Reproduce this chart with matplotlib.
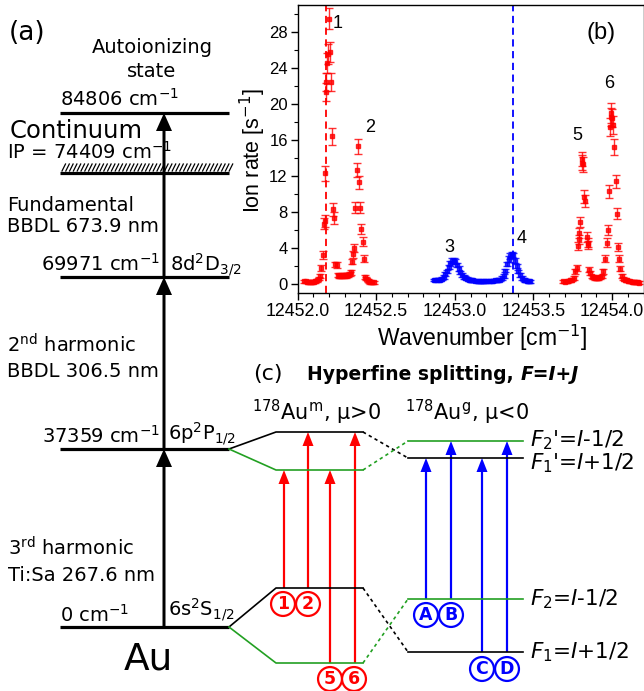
import numpy as np
import matplotlib
matplotlib.use("Agg")
import matplotlib.pyplot as plt
from matplotlib.ticker import MultipleLocator

# ---- spectrum data (b): wavenumber offsets from 12452 cm-1, ion rate, error ----
wn_base = 12452.0

m_low_x = [0.040, 0.051, 0.061, 0.072, 0.083, 0.093, 0.104, 0.114, 0.125, 0.135,
           0.142, 0.150, 0.163, 0.169, 0.173, 0.178, 0.182, 0.184, 0.188, 0.193,
           0.199, 0.205, 0.212, 0.220, 0.227, 0.233, 0.241, 0.248, 0.256, 0.265,
           0.273, 0.282, 0.290, 0.299, 0.307, 0.315, 0.324, 0.332, 0.341, 0.347,
           0.353, 0.358, 0.366, 0.379, 0.385, 0.392, 0.400, 0.406, 0.415, 0.421,
           0.432, 0.438, 0.446, 0.455, 0.463, 0.474, 0.485]
m_low_y = [0.3, 0.35, 0.25, 0.2, 0.2, 0.25, 0.25, 0.3, 0.4, 0.6,
           0.9, 1.8, 3.2, 6.7, 7.0, 12.3, 21.3, 22.4, 24.6, 25.6,
           29.5, 25.8, 22.4, 16.4, 8.3, 7.3, 2.2, 2.1, 1.0, 0.9,
           0.9, 1.0, 0.9, 1.0, 0.9, 1.0, 1.0, 1.1, 1.3, 2.5,
           3.3, 4.0, 8.5, 12.7, 15.3, 11.3, 8.5, 6.1, 4.7, 2.8,
           0.8, 0.6, 0.4, 0.3, 0.2, 0.2, 0.2]
m_low_err = [0.15, 0.15, 0.15, 0.15, 0.15, 0.15, 0.15, 0.15, 0.2, 0.2,
             0.25, 0.3, 0.45, 0.6, 0.65, 0.8, 1.0, 1.0, 1.1, 1.1,
             1.2, 1.1, 1.0, 0.9, 0.7, 0.65, 0.3, 0.3, 0.2, 0.2,
             0.2, 0.2, 0.2, 0.2, 0.2, 0.2, 0.2, 0.2, 0.25, 0.3,
             0.4, 0.45, 0.65, 0.8, 0.85, 0.75, 0.65, 0.55, 0.5, 0.4,
             0.2, 0.2, 0.15, 0.15, 0.15, 0.15, 0.15]

g_x = [0.866, 0.877, 0.887, 0.898, 0.908, 0.919, 0.929, 0.940, 0.950, 0.961,
       0.971, 0.982, 0.993, 1.003, 1.014, 1.024, 1.035, 1.045, 1.056, 1.066,
       1.077, 1.088, 1.098, 1.109, 1.119, 1.130, 1.141, 1.151, 1.162, 1.172,
       1.183, 1.193, 1.204, 1.215, 1.225, 1.236, 1.246, 1.257, 1.268, 1.278,
       1.289, 1.299, 1.310, 1.321, 1.331, 1.342, 1.352, 1.363, 1.373, 1.384,
       1.395, 1.405, 1.416, 1.426, 1.437, 1.448, 1.458, 1.469, 1.479]
g_y = [0.45, 0.45, 0.45, 0.5, 0.5, 0.6, 0.8, 1.1, 1.4, 1.9,
       2.3, 2.6, 2.6, 2.5, 2.1, 1.7, 1.3, 1.0, 0.8, 0.7,
       0.6, 0.5, 0.45, 0.4, 0.4, 0.35, 0.35, 0.3, 0.3, 0.3,
       0.3, 0.35, 0.35, 0.35, 0.35, 0.35, 0.35, 0.4, 0.4, 0.45,
       0.5, 0.7, 0.9, 1.5, 2.2, 2.8, 3.1, 3.3, 3.2, 2.6,
       2.0, 1.4, 1.0, 0.7, 0.5, 0.4, 0.35, 0.3, 0.3]
g_err = [0.15, 0.15, 0.15, 0.15, 0.15, 0.15, 0.2, 0.2, 0.2, 0.25,
         0.25, 0.3, 0.3, 0.3, 0.25, 0.25, 0.2, 0.2, 0.2, 0.15,
         0.15, 0.15, 0.15, 0.15, 0.15, 0.15, 0.15, 0.15, 0.15, 0.15,
         0.15, 0.15, 0.15, 0.15, 0.15, 0.15, 0.15, 0.15, 0.15, 0.15,
         0.15, 0.2, 0.2, 0.2, 0.25, 0.3, 0.3, 0.3, 0.3, 0.3,
         0.25, 0.2, 0.2, 0.2, 0.15, 0.15, 0.15, 0.15, 0.15]

m_high_x = [1.691, 1.701, 1.712, 1.722, 1.733, 1.744, 1.755, 1.765, 1.776, 1.782,
            1.788, 1.793, 1.797, 1.807, 1.811, 1.814, 1.824, 1.831, 1.839, 1.845,
            1.850, 1.856, 1.863, 1.871, 1.881, 1.892, 1.902, 1.913, 1.923, 1.934,
            1.945, 1.956, 1.966, 1.973, 1.979, 1.987, 1.991, 1.995, 1.998, 2.004,
            2.013, 2.023, 2.030, 2.036, 2.042, 2.051, 2.061, 2.072, 2.083, 2.093,
            2.104, 2.114, 2.125, 2.135, 2.146, 2.157, 2.167, 2.174]
m_high_y = [0.3, 0.25, 0.3, 0.35, 0.4, 0.5, 0.7, 1.4, 1.8, 4.2,
            5.0, 5.7, 6.9, 13.9, 13.5, 13.3, 9.7, 9.2, 5.2, 4.6,
            4.3, 1.6, 1.2, 0.85, 0.75, 0.7, 0.7, 0.7, 0.75, 0.85,
            1.4, 2.8, 4.6, 6.0, 10.3, 17.5, 19.0, 18.6, 18.4, 17.7,
            15.2, 11.4, 7.8, 4.1, 2.8, 1.7, 0.9, 0.6, 0.5, 0.4,
            0.35, 0.3, 0.25, 0.25, 0.2, 0.2, 0.2, 0.15]
m_high_err = [0.15, 0.15, 0.15, 0.15, 0.15, 0.2, 0.2, 0.3, 0.3, 0.45,
              0.5, 0.55, 0.6, 0.8, 0.8, 0.8, 0.7, 0.65, 0.55, 0.5,
              0.45, 0.3, 0.25, 0.2, 0.2, 0.2, 0.2, 0.2, 0.2, 0.2,
              0.3, 0.4, 0.5, 0.55, 0.7, 1.0, 1.1, 1.0, 1.0, 1.0,
              0.9, 0.75, 0.6, 0.45, 0.4, 0.3, 0.2, 0.2, 0.15, 0.15,
              0.15, 0.15, 0.15, 0.15, 0.15, 0.15, 0.15, 0.15]

line_m = 12452.184   # red dashed marker
line_g = 12453.370   # blue dashed marker
xticks_b = [12452.0, 12452.5, 12453.0, 12453.5, 12454.0]
yticks_b = [0, 4, 8, 12, 16, 20, 24, 28]

# ---- level scheme (a) ----
level_energy = ["84806", "69971", "37359", "0"]
level_term = ["", r"8d$^2$D$_{3/2}$", r"6p$^2$P$_{1/2}$", r"6s$^2$S$_{1/2}$"]
ip_value = "74409"
step_text = [["Fundamental", "BBDL 673.9 nm"],
             [r"2$^{\rm nd}$ harmonic", "BBDL 306.5 nm"],
             [r"3$^{\rm rd}$ harmonic", "Ti:Sa 267.6 nm"]]

# ---- hyperfine scheme (c) ----
hfs_m_labels = ["1", "2", "5", "6"]
hfs_g_labels = ["A", "B", "C", "D"]
hfs_level_labels = [r"$\mathit{F_2}$'=$\mathit{I}$-1/2", r"$\mathit{F_1}$'=$\mathit{I}$+1/2",
                    r"$\mathit{F_2}$=$\mathit{I}$-1/2", r"$\mathit{F_1}$=$\mathit{I}$+1/2"]

RED = "#ff0000"
BLUE = "#0000ff"
GREEN = "#22a022"
ARIAL = "Liberation Sans"

fig = plt.figure(figsize=(6.44, 6.91), dpi=100)

# background axes in pixel coordinates for the schemes
bg = fig.add_axes([0, 0, 1, 1])
bg.set_xlim(0, 644)
bg.set_ylim(691, 0)
bg.axis("off")

# ---------------- (a) level scheme ----------------
lev_y = [113, 277, 449, 627]
x0, x1, xa = 60, 229, 164
ip_y = 173
for y in lev_y + [ip_y]:
    bg.plot([x0, x1], [y, y], color="black", lw=2.3, solid_capstyle="butt")
for hx in np.arange(62, 231, 3.8):
    bg.plot([hx, hx + 3.5], [171, 164], color="black", lw=0.9)

for ya, yb in [(627, 449), (449, 277), (277, 113)]:
    bg.arrow(xa, ya, 0, yb - ya, width=3, head_width=16, head_length=18,
             length_includes_head=True, color="black", lw=0)

fs = 14
bg.text(27, 33, "(a)", fontsize=19, ha="center", va="center")
bg.text(152, 47, "Autoionizing", fontsize=fs, ha="center", va="center")
bg.text(152, 71, "state", fontsize=fs, ha="center", va="center")
bg.text(60, 106, level_energy[0] + r" cm$^{-1}$", fontsize=fs, ha="left", va="baseline")
bg.text(10, 138, "Continuum", fontsize=17.5, ha="left", va="baseline")
bg.text(7, 159, "IP = " + ip_value + r" cm$^{-1}$", fontsize=fs, ha="left", va="baseline")
bg.text(7, 211, step_text[0][0], fontsize=fs, ha="left", va="baseline")
bg.text(7, 232, step_text[0][1], fontsize=fs, ha="left", va="baseline")
bg.text(160, 271, level_energy[1] + r" cm$^{-1}$", fontsize=fs, ha="right", va="baseline")
bg.text(170, 271, level_term[1], fontsize=fs, ha="left", va="baseline")
bg.text(7, 352, step_text[1][0], fontsize=fs, ha="left", va="baseline")
bg.text(7, 377, step_text[1][1], fontsize=fs, ha="left", va="baseline")
bg.text(160, 443, level_energy[2] + r" cm$^{-1}$", fontsize=fs, ha="right", va="baseline")
bg.text(168, 440, level_term[2], fontsize=fs, ha="left", va="baseline")
bg.text(8, 555, step_text[2][0], fontsize=fs, ha="left", va="baseline")
bg.text(8, 581, step_text[2][1], fontsize=fs, ha="left", va="baseline")
bg.text(60, 622, level_energy[3] + r" cm$^{-1}$", fontsize=fs, ha="left", va="baseline")
bg.text(168, 616, level_term[3], fontsize=fs, ha="left", va="baseline")
bg.text(148, 670, "Au", fontsize=27, ha="center", va="baseline")

# ---------------- (c) hyperfine scheme ----------------
xs, xm0, xm1, xg0, xg1 = 229, 276, 363, 408, 523
up = dict(m_hi=432, m_lo=470, g_f2=441, g_f1=458)
lo = dict(m_hi=588, m_lo=663, g_f2=599, g_f1=652)
thin = 1.2
for base, d in [(449, up), (627, lo)]:
    bg.plot([xs, xm0, xm1], [base, d["m_hi"], d["m_hi"]], color="black", lw=thin)
    bg.plot([xs, xm0, xm1], [base, d["m_lo"], d["m_lo"]], color=GREEN, lw=thin)
    bg.plot([xm1, xg0], [d["m_hi"], d["g_f1"]], color="black", lw=thin, ls=(0, (2, 2)))
    bg.plot([xm1, xg0], [d["m_lo"], d["g_f2"]], color=GREEN, lw=thin, ls=(0, (2, 2)))
    bg.plot([xg0, xg1], [d["g_f1"], d["g_f1"]], color="black", lw=thin)
    bg.plot([xg0, xg1], [d["g_f2"], d["g_f2"]], color=GREEN, lw=thin)

for txt, y, dy in zip(hfs_level_labels, [up["g_f2"], up["g_f1"], lo["g_f2"], lo["g_f1"]],
                      [-1, 5, 0, 0]):
    bg.text(530, y + dy, txt, fontsize=15.5, ha="left", va="center")

# transitions
m_arrows = [(284, lo["m_hi"], up["m_lo"]), (308, lo["m_hi"], up["m_hi"]),
            (330, lo["m_lo"], up["m_lo"]), (355, lo["m_lo"], up["m_hi"])]
g_arrows = [(426, lo["g_f2"], up["g_f1"]), (451, lo["g_f2"], up["g_f2"]),
            (482, lo["g_f1"], up["g_f1"]), (507, lo["g_f1"], up["g_f2"])]
for (x, ya, yb), col in [(a, RED) for a in m_arrows] + [(a, BLUE) for a in g_arrows]:
    bg.arrow(x, ya, 0, yb - ya, width=2.2, head_width=11, head_length=14,
             length_includes_head=True, color=col, lw=0)

circ_m = [(283, 604), (308, 604), (330, 679), (354, 679)]
circ_g = [(426, 615), (451, 615), (482, 669), (507, 669)]
for lab, (x, y) in zip(hfs_m_labels, circ_m):
    bg.text(x, y, lab, fontsize=12.5, fontweight="bold", color=RED, ha="center", va="center",
            bbox=dict(boxstyle="circle,pad=0.17", fc="white", ec=RED, lw=1.6))
for lab, (x, y) in zip(hfs_g_labels, circ_g):
    bg.text(x, y, lab, fontsize=12.5, fontweight="bold", color=BLUE, ha="center", va="center",
            bbox=dict(boxstyle="circle,pad=0.17", fc="white", ec=BLUE, lw=1.6))

bg.text(317, 420, r"$^{178}$Au$^{\rm m}$, μ>0", fontsize=15, ha="center", va="baseline")
bg.text(467, 420, r"$^{178}$Au$^{\rm g}$, μ<0", fontsize=15, ha="center", va="baseline")

bg.text(268, 374, "(c)", fontsize=16, ha="center", va="center")
t1 = bg.text(307, 380, "Hyperfine splitting, ", fontsize=13.5, fontweight="bold",
             ha="left", va="baseline")
fig.canvas.draw()
bb = t1.get_window_extent()
x_end = bg.transData.inverted().transform((bb.x1, bb.y0))[0]
bg.text(x_end, 380, "F=I+J", fontsize=13.5, fontweight="bold", style="italic",
        ha="left", va="baseline")

# ---------------- (b) spectrum ----------------
L, R, T, B = 297.5, 643.5, 5, 293
ax = fig.add_axes([L / 644, 1 - B / 691, (R - L) / 644, (B - T) / 691])
ax.set_facecolor("none")

ekw = dict(fmt="s", ms=2.3, elinewidth=1.0, capsize=2.8, capthick=1.0, alpha=0.8)
ax.errorbar(wn_base + np.array(m_low_x), m_low_y, yerr=m_low_err, color=RED, **ekw)
ax.errorbar(wn_base + np.array(g_x), g_y, yerr=g_err, color=BLUE, **ekw)
ax.errorbar(wn_base + np.array(m_high_x), m_high_y, yerr=m_high_err, color=RED, **ekw)
ax.axvline(line_m, color=RED, lw=1.3, ls=(0, (4, 2.5)))
ax.axvline(line_g, color=BLUE, lw=1.3, ls=(0, (4, 2.5)))

ax.set_xlim(12452.0, 12454.2)
ax.set_ylim(-1, 31)
ax.set_xticks(xticks_b)
ax.set_xticklabels([f"{v:.1f}" for v in xticks_b], fontfamily=ARIAL, fontsize=12.8)
ax.set_yticks(yticks_b)
ax.set_yticklabels([str(v) for v in yticks_b], fontfamily=ARIAL, fontsize=12)
ax.xaxis.set_minor_locator(MultipleLocator(0.1))
ax.yaxis.set_minor_locator(MultipleLocator(2))
ax.tick_params(which="major", direction="out", length=5, width=1, pad=2)
ax.tick_params(which="minor", direction="out", length=3, width=0.8)
for s in ax.spines.values():
    s.set_linewidth(1.0)

bg.text(253, 150, r"Ion rate [s$^{-1}$]", fontsize=15.5, fontfamily=ARIAL, rotation=90,
        ha="center", va="center")
bg.text(482, 338, r"Wavenumber [cm$^{-1}$]", fontsize=16.5, fontfamily=ARIAL,
        ha="center", va="center")
bg.text(601, 33, "(b)", fontsize=17, fontfamily=ARIAL, ha="center", va="center")
for lab, (x, y) in zip(["1", "2", "3", "4", "5", "6"],
                       [(338, 23), (370, 127), (449, 247), (522, 238), (577, 135), (609, 83)]):
    bg.text(x, y, lab, fontsize=13, fontfamily=ARIAL, ha="center", va="center")

fig.savefig("out.png", dpi=100)
